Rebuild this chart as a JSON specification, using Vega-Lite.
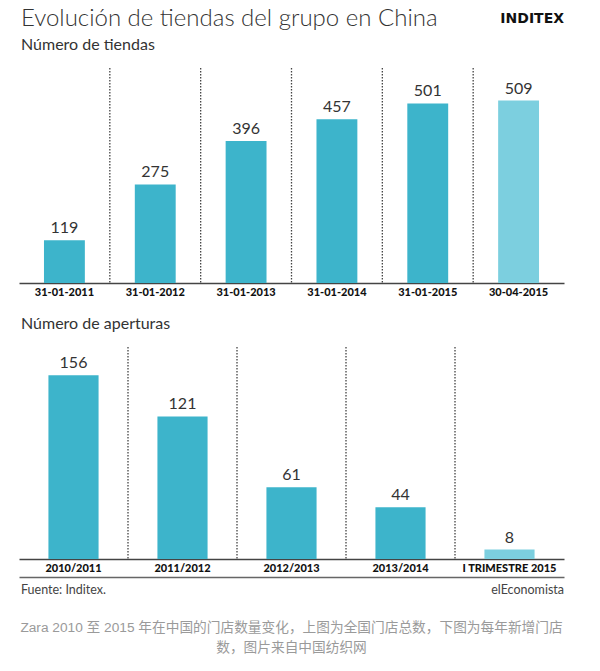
{
  "$schema": "https://vega.github.io/schema/vega-lite/v6.json",
  "background": "white",
  "padding": {"left": 19, "top": 4, "right": 30, "bottom": 4},
  "spacing": 4,
  "title": {
    "text": ["Zara 2010 至 2015 年在中国的门店数量变化，上图为全国门店总数，下图为每年新增门店", "数，图片来自中国纺织网"],
    "orient": "bottom",
    "anchor": "middle",
    "font": "Liberation Sans, Noto Sans CJK SC",
    "fontSize": 13.7,
    "fontWeight": "normal",
    "color": "#9a9a9a",
    "lineHeight": 20,
    "offset": 18
  },
  "resolve": {"scale": {"x": "independent", "y": "independent", "color": "independent"}},
  "config": {
    "view": {"stroke": null},
    "axis": {"grid": false}
  },
  "vconcat": [
    {
      "width": 545,
      "height": 29,
      "data": {"values": [
        {"lado": "izquierda", "texto": "Evolución de tiendas del grupo en China"},
        {"lado": "derecha", "texto": "INDITEX"}
      ]},
      "encoding": {
        "x": {"field": "lado", "type": "nominal", "scale": {"type": "point", "domain": ["izquierda", "derecha"], "padding": 0}, "axis": null},
        "text": {"field": "texto"}
      },
      "layer": [
        {
          "transform": [{"filter": "datum.lado == 'izquierda'"}],
          "mark": {"type": "text", "align": "left", "baseline": "middle", "dx": 2, "font": "Lato", "fontSize": 24, "fontWeight": 300, "color": "#333333"}
        },
        {
          "transform": [{"filter": "datum.lado == 'derecha'"}],
          "mark": {"type": "text", "align": "right", "baseline": "middle", "font": "DejaVu Sans", "fontSize": 14, "fontWeight": "bold", "color": "#111111"}
        }
      ]
    },
    {
      "width": 545,
      "height": 215,
      "title": {"text": "Número de tiendas", "anchor": "start", "frame": "group", "dx": 2, "font": "Lato", "fontSize": 16, "fontWeight": "normal", "color": "#333333", "offset": 14},
      "data": {"values": [
        {"fecha": "31-01-2011", "tiendas": 119, "periodo": "cierre"},
        {"fecha": "31-01-2012", "tiendas": 275, "periodo": "cierre"},
        {"fecha": "31-01-2013", "tiendas": 396, "periodo": "cierre"},
        {"fecha": "31-01-2014", "tiendas": 457, "periodo": "cierre"},
        {"fecha": "31-01-2015", "tiendas": 501, "periodo": "cierre"},
        {"fecha": "30-04-2015", "tiendas": 509, "periodo": "trimestre"}
      ]},
      "encoding": {
        "x": {
          "field": "fecha", "type": "nominal",
          "scale": {"domain": ["31-01-2011", "31-01-2012", "31-01-2013", "31-01-2014", "31-01-2015", "30-04-2015"], "paddingInner": 0, "paddingOuter": 0},
          "axis": {"title": null, "orient": "bottom", "labelAngle": 0, "ticks": false, "domain": true, "domainColor": "#444444", "domainWidth": 1.5, "labelFont": "Lato", "labelFontWeight": 900, "labelFontSize": 11, "labelColor": "#111111", "labelPadding": 3, "minExtent": 29}
        }
      },
      "layer": [
        {
          "transform": [{"filter": "datum.fecha != '31-01-2011'"}],
          "mark": {"type": "rule", "strokeDash": [1.5, 1.5], "color": "#444444", "strokeWidth": 1.3},
          "encoding": {"x": {"field": "fecha", "type": "nominal", "bandPosition": 0}}
        },
        {
          "mark": {"type": "bar", "width": {"band": 0.45}},
          "encoding": {
            "y": {"field": "tiendas", "type": "quantitative", "scale": {"domain": [0, 558]}, "axis": null},
            "color": {"field": "periodo", "type": "nominal", "scale": {"domain": ["cierre", "trimestre"], "range": ["#3db4cb", "#7ccfdf"]}, "legend": null}
          }
        },
        {
          "mark": {"type": "text", "baseline": "alphabetic", "dy": -7, "font": "Lato", "fontSize": 16, "color": "#333333"},
          "encoding": {
            "y": {"field": "tiendas", "type": "quantitative"},
            "text": {"field": "tiendas"}
          }
        }
      ]
    },
    {
      "width": 545,
      "height": 212,
      "title": {"text": "Número de aperturas", "anchor": "start", "frame": "group", "dx": 2, "font": "Lato", "fontSize": 16, "fontWeight": "normal", "color": "#333333", "offset": 14},
      "data": {"values": [
        {"periodo": "2010/2011", "aperturas": 156, "tipo": "anual"},
        {"periodo": "2011/2012", "aperturas": 121, "tipo": "anual"},
        {"periodo": "2012/2013", "aperturas": 61, "tipo": "anual"},
        {"periodo": "2013/2014", "aperturas": 44, "tipo": "anual"},
        {"periodo": "I TRIMESTRE 2015", "aperturas": 8, "tipo": "trimestre"}
      ]},
      "encoding": {
        "x": {
          "field": "periodo", "type": "nominal",
          "scale": {"domain": ["2010/2011", "2011/2012", "2012/2013", "2013/2014", "I TRIMESTRE 2015"], "paddingInner": 0, "paddingOuter": 0},
          "axis": {"title": null, "orient": "bottom", "labelAngle": 0, "ticks": false, "domain": true, "domainColor": "#444444", "domainWidth": 1.5, "labelFont": "Lato", "labelFontWeight": 900, "labelFontSize": 11, "labelColor": "#111111", "labelPadding": 3}
        }
      },
      "layer": [
        {
          "transform": [{"filter": "datum.periodo != '2010/2011'"}],
          "mark": {"type": "rule", "strokeDash": [1.5, 1.5], "color": "#444444", "strokeWidth": 1.3},
          "encoding": {"x": {"field": "periodo", "type": "nominal", "bandPosition": 0}}
        },
        {
          "mark": {"type": "bar", "width": {"band": 0.46}},
          "encoding": {
            "y": {"field": "aperturas", "type": "quantitative", "scale": {"domain": [0, 175]}, "axis": null},
            "color": {"field": "tipo", "type": "nominal", "scale": {"domain": ["anual", "trimestre"], "range": ["#3db4cb", "#7ccfdf"]}, "legend": null}
          }
        },
        {
          "mark": {"type": "text", "baseline": "alphabetic", "dy": -7, "font": "Lato", "fontSize": 16, "color": "#333333"},
          "encoding": {
            "y": {"field": "aperturas", "type": "quantitative"},
            "text": {"field": "aperturas"}
          }
        }
      ]
    },
    {
      "width": 545,
      "height": 26,
      "data": {"values": [
        {"lado": "izquierda", "texto": "Fuente: Inditex."},
        {"lado": "derecha", "texto": "elEconomista"}
      ]},
      "encoding": {
        "x": {"field": "lado", "type": "nominal", "scale": {"type": "point", "domain": ["izquierda", "derecha"], "padding": 0},
              "axis": {"orient": "top", "title": null, "labels": false, "ticks": false, "domain": true, "domainColor": "#666666", "domainWidth": 1.5}},
        "text": {"field": "texto"}
      },
      "layer": [
        {
          "transform": [{"filter": "datum.lado == 'izquierda'"}],
          "mark": {"type": "text", "align": "left", "baseline": "middle", "dx": 2, "font": "Lato", "fontSize": 12.5, "color": "#444444"}
        },
        {
          "transform": [{"filter": "datum.lado == 'derecha'"}],
          "mark": {"type": "text", "align": "right", "baseline": "middle", "font": "Lato", "fontSize": 12.5, "color": "#444444"}
        }
      ]
    }
  ]
}
